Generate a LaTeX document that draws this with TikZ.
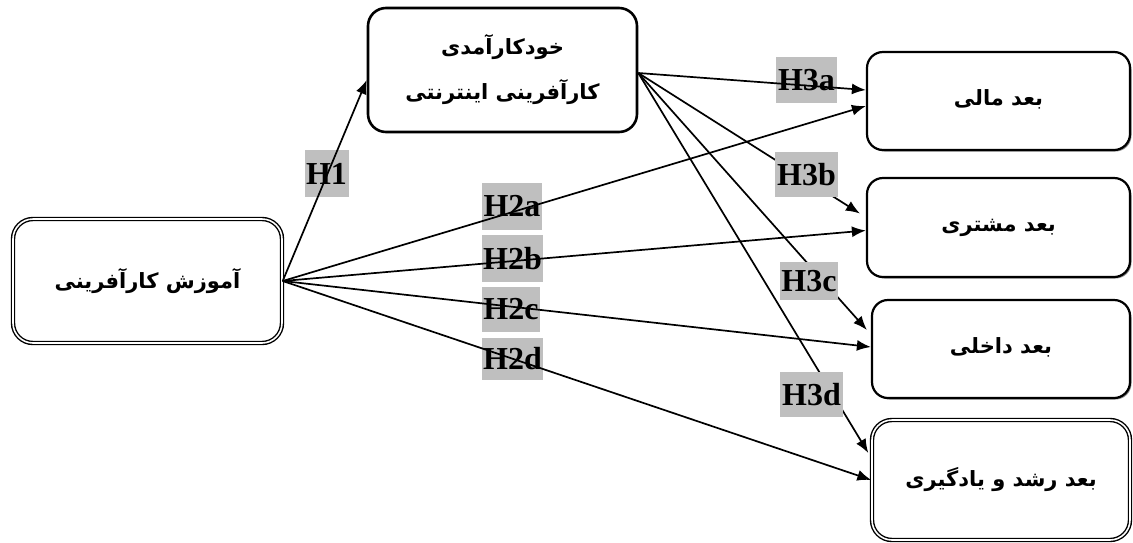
\documentclass[tikz,border=0pt]{standalone}
\usepackage{fontspec}
\setmainfont{Liberation Serif}
\newfontfamily\fa[Script=Arabic]{DejaVu Sans}
\TeXXeTstate=1
\usetikzlibrary{arrows.meta,shadows}
\tikzset{
  conn/.style={line width=1.7pt,-{Latex[length=14pt,width=11pt]}},
  hlab/.style={fill=black!25,inner sep=0pt,font=\bfseries\fontsize{32}{32}\selectfont,anchor=center},
  effbox/.style={draw,line width=2.6pt,rounded corners=18pt,fill=white,inner sep=0pt,align=center,font=\fa\bfseries\fontsize{21}{43}\selectfont},
  dblbox/.style={draw,double,double distance=1.6pt,line width=1.4pt,rounded corners=20pt,fill=white,inner sep=0pt,font=\fa\bfseries\fontsize{21}{25}\selectfont},
  dimbox/.style={draw,line width=2.2pt,rounded corners=16pt,fill=white,inner sep=0pt,font=\fa\bfseries\fontsize{21}{25}\selectfont,
     drop shadow={shadow xshift=1.5pt,shadow yshift=-1.5pt,fill=black!45,opacity=1}}
}
\begin{document}
\begin{tikzpicture}[x=1pt,y=-1pt]
\useasboundingbox (0,0) rectangle (1133,542);
% boxes
\node[effbox,minimum width=269pt,minimum height=124pt] (eff) at (502.5,70)
  {\raisebox{2pt}{\beginR خودکارآمدی\endR}\\\beginR کارآفرینی اینترنتی\endR};
\node[dblbox,minimum width=269pt,minimum height=124pt] (edu) at (147.5,281)
  {\raisebox{6pt}{\beginR آموزش کارآفرینی\endR}};
\node[dimbox,minimum width=263pt,minimum height=98pt] (fin) at (998.5,101)
  {\raisebox{6pt}{\beginR بعد مالی\endR}};
\node[dimbox,minimum width=263pt,minimum height=99pt] (cus) at (998.5,227.5)
  {\raisebox{4pt}{\beginR بعد مشتری\endR}};
\node[dimbox,minimum width=258pt,minimum height=98pt] (int) at (1001,349)
  {\raisebox{6pt}{\beginR بعد داخلی\endR}};
\node[dblbox,minimum width=258pt,minimum height=120pt] (lrn) at (1001,480)
  {\raisebox{2pt}{\beginR بعد رشد و یادگیری\endR}};
% labels under the lines
\node[hlab,minimum width=44pt,minimum height=47pt] (lH1) at (326.5,173.5) {\raisebox{-4pt}{H1}};
\node[hlab,minimum width=60pt,minimum height=47pt] (lH2a) at (512,206.5) {\raisebox{-4pt}{H2a}};
\node[hlab,minimum width=61pt,minimum height=47pt] (lH2b) at (512.5,258.5) {\raisebox{-4pt}{H2b}};
\node[hlab,minimum width=58pt,minimum height=45pt] (lH2c) at (511,309.5) {\raisebox{-4pt}{H2c}};
\node[hlab,minimum width=61pt,minimum height=42pt] (lH2d) at (512.5,359) {\raisebox{-4pt}{H2d}};
\node[hlab,minimum width=61pt,minimum height=46pt] (lH3a) at (806.5,80) {\raisebox{-2pt}{H3a}};
% connectors
\draw[conn] (edu.east) -- ([yshift=-10pt]eff.west);
\draw[conn] (edu.east) -- ([yshift=-5pt]fin.west);
\draw[conn] (edu.east) -- ([yshift=-3pt]cus.west);
\draw[conn] (edu.east) -- ([yshift=2pt]int.west);
\draw[conn] (edu.east) -- (lrn.west);
\coordinate (src) at ([yshift=-3pt]eff.east);
\draw[conn] (src) -- ([yshift=11pt]fin.west);
\draw[conn] (src) -- ([xshift=-6pt,yshift=14pt]cus.west);
\draw[conn] (src) -- ([xshift=-4pt,yshift=19pt]int.west);
\draw[conn] (src) -- ([xshift=-3pt,yshift=27pt]lrn.west);
% labels over the lines
\node[hlab,minimum width=63pt,minimum height=45pt] (lH3b) at (806.5,174.5) {\raisebox{-2pt}{H3b}};
\node[hlab,minimum width=58pt,minimum height=38pt] (lH3c) at (809,281) {\raisebox{-1pt}{H3c}};
\node[hlab,minimum width=63pt,minimum height=45pt] (lH3d) at (811.5,394.5) {\raisebox{-1pt}{H3d}};
\end{tikzpicture}
\end{document}
